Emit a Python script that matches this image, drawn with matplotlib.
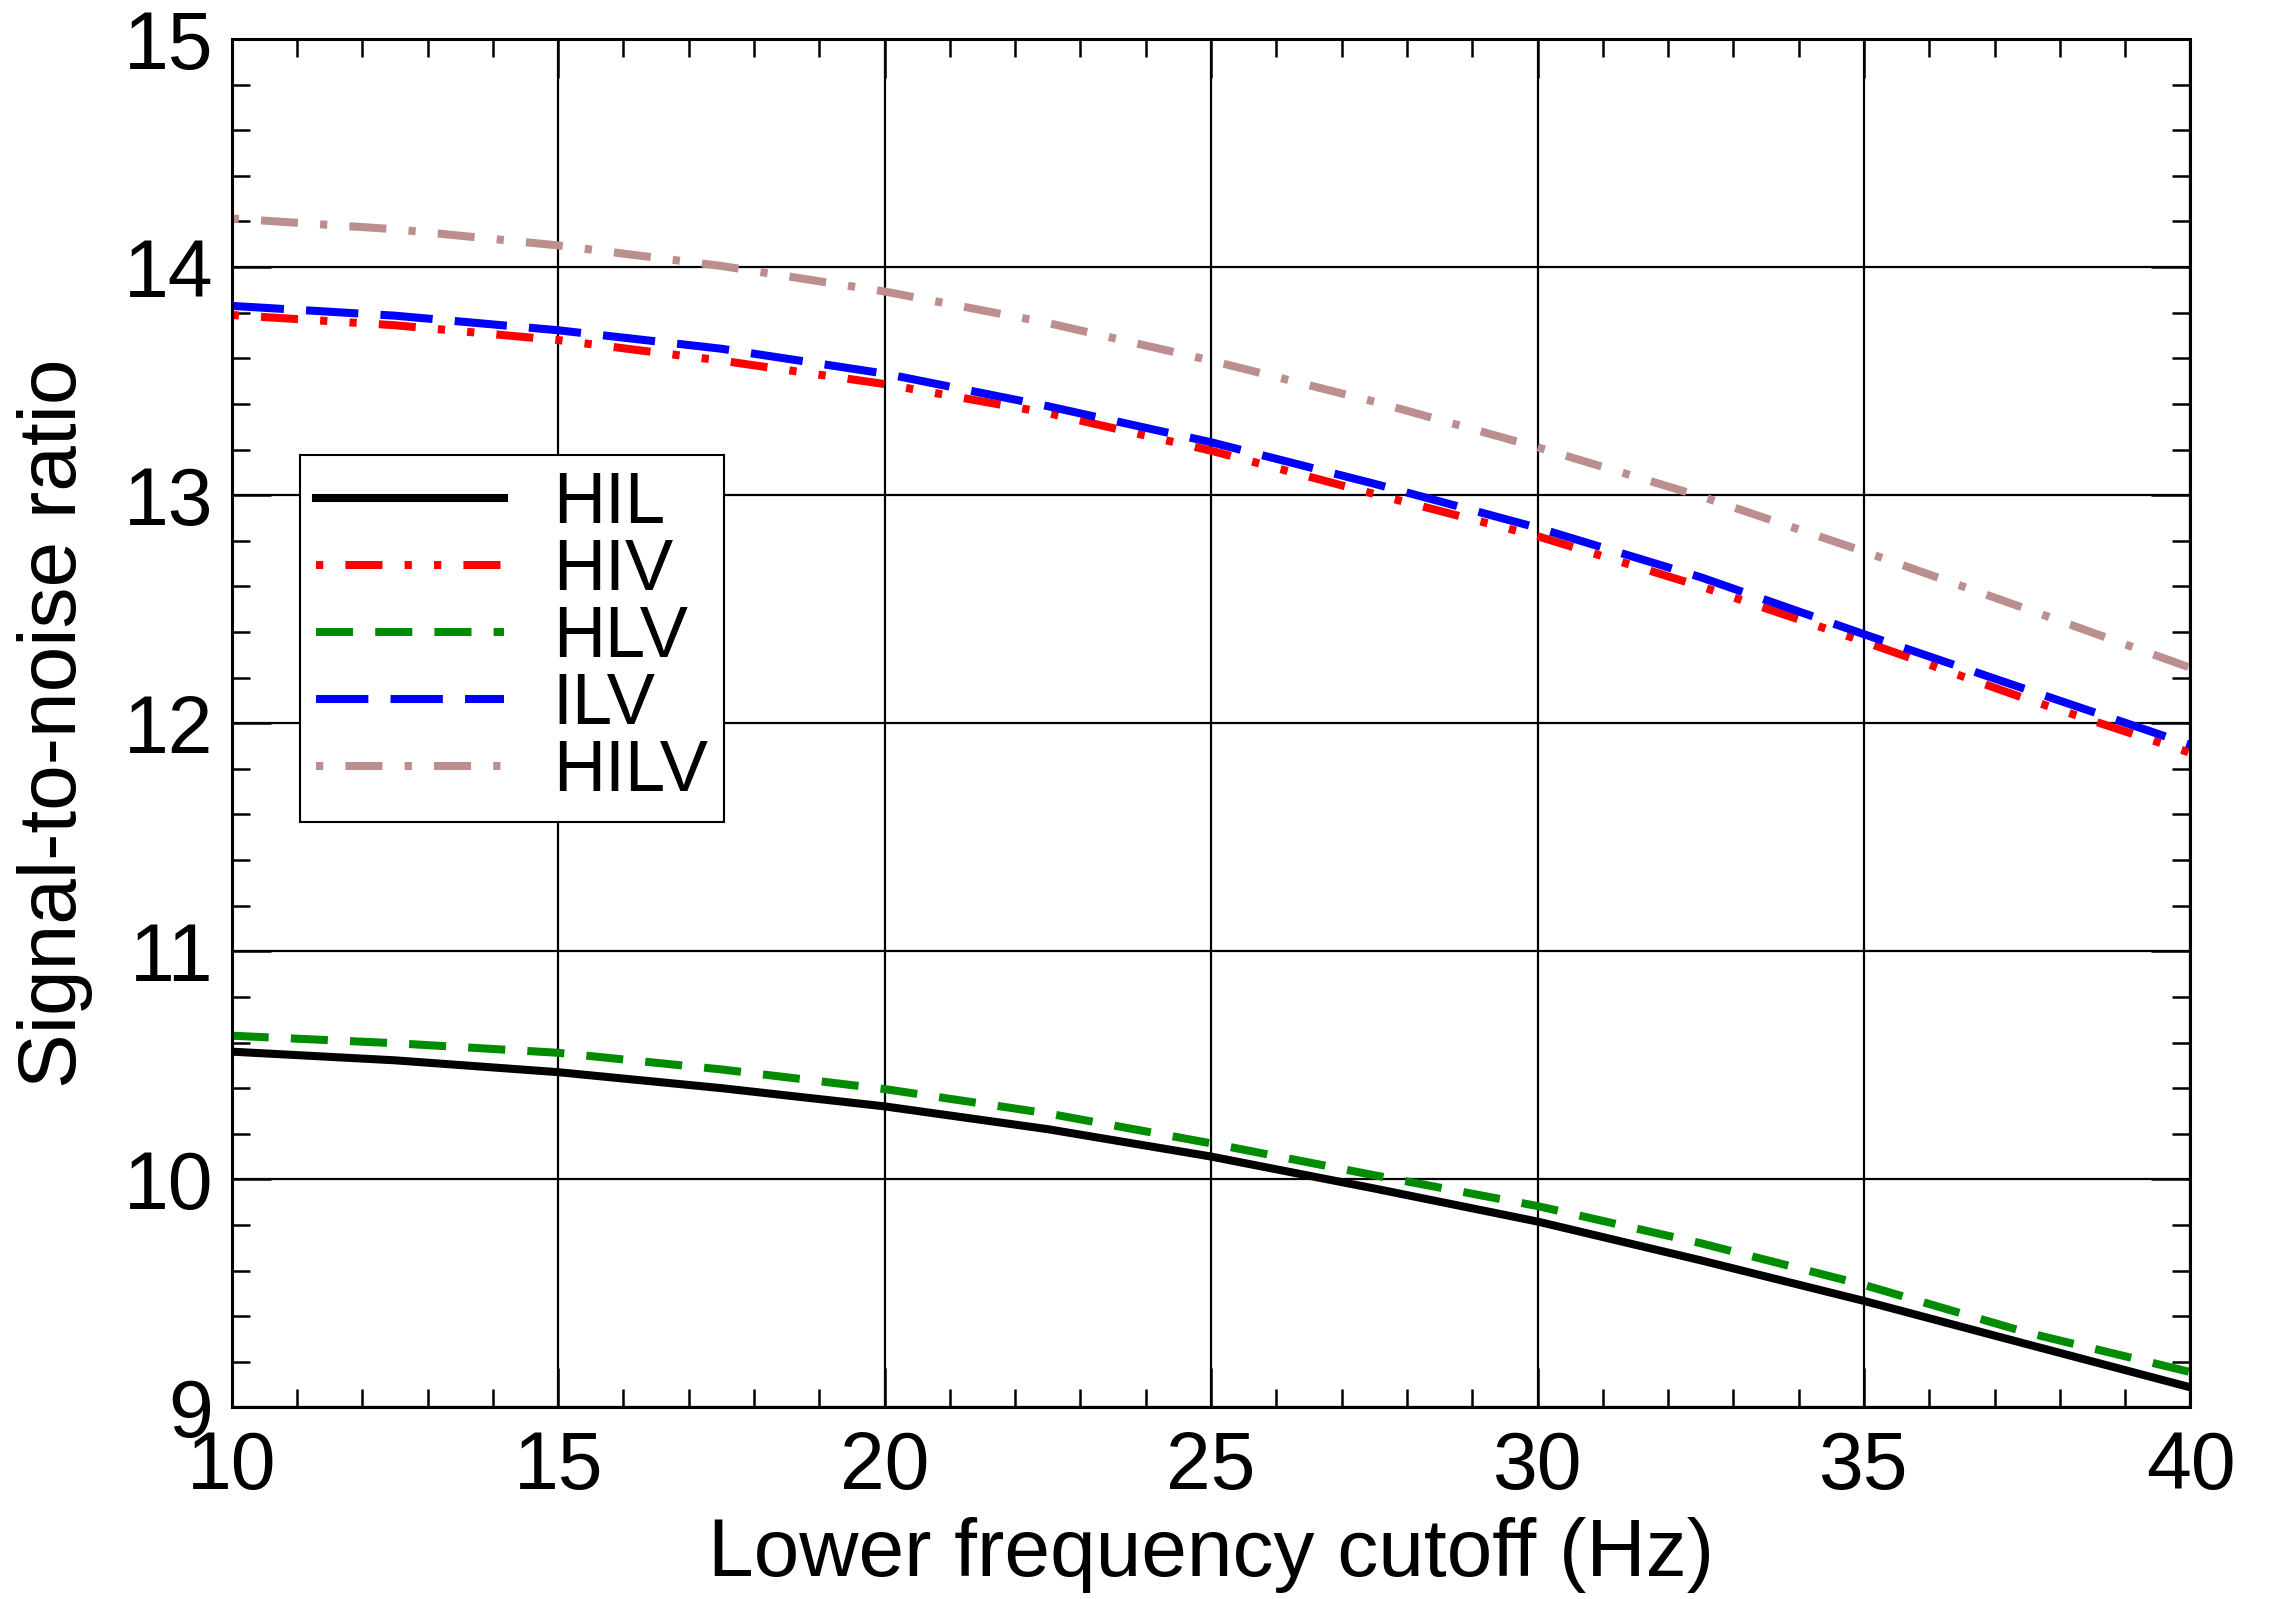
import numpy as np
import matplotlib
matplotlib.use('Agg')
import matplotlib.pyplot as plt
from matplotlib.ticker import MultipleLocator

# Lower frequency cutoff (Hz)
cutoff = [10, 12.5, 15, 17.5, 20, 22.5, 25, 27.5, 30, 32.5, 35, 37.5, 40]

# Signal-to-noise ratio for each detector network
snr_hil = [10.56, 10.522, 10.47, 10.40, 10.32, 10.22, 10.10, 9.96, 9.815, 9.645, 9.467, 9.277, 9.088]
snr_hiv = [13.79, 13.745, 13.68, 13.59, 13.487, 13.36, 13.195, 13.005, 12.82, 12.60, 12.358, 12.105, 11.87]
snr_hlv = [10.63, 10.597, 10.555, 10.482, 10.396, 10.289, 10.158, 10.018, 9.883, 9.72, 9.537, 9.328, 9.155]
snr_ilv = [13.83, 13.787, 13.723, 13.642, 13.533, 13.39, 13.232, 13.05, 12.857, 12.64, 12.39, 12.147, 11.905]
snr_hilv = [14.213, 14.166, 14.095, 14.005, 13.893, 13.755, 13.59, 13.41, 13.21, 12.995, 12.753, 12.50, 12.243]

plt.rcParams['font.family'] = ['Liberation Sans', 'DejaVu Sans']

fig = plt.figure(figsize=(22.69, 15.99), dpi=100)
ax = fig.add_axes([0.1021, 0.1198, 0.8633, 0.8558])

lw = 5.8
dot, gap, dash = 0.9, 2.75, 4.6
ax.plot(cutoff, snr_hil, color='black', lw=lw, label='HIL')
ax.plot(cutoff, snr_hiv, color='#ff0000', lw=lw, dash_capstyle='butt',
        linestyle=(dash + 2 * gap + dot, (dash, gap, dot, gap, dot, gap)), label='HIV')
ax.plot(cutoff, snr_hlv, color='#008c00', lw=lw, dash_capstyle='butt',
        linestyle=(0, (dash, gap)), label='HLV')
ax.plot(cutoff, snr_ilv, color='#0000ff', lw=lw, dash_capstyle='butt',
        linestyle=(0, (6.5, gap)), label='ILV')
ax.plot(cutoff, snr_hilv, color='#bc8f8f', lw=lw, dash_capstyle='butt',
        linestyle=(dash + gap, (dash, gap, dot, gap)), label='HILV')

ax.set_xlim(10, 40)
ax.set_ylim(9, 15)
ax.xaxis.set_major_locator(MultipleLocator(5))
ax.xaxis.set_minor_locator(MultipleLocator(1))
ax.yaxis.set_major_locator(MultipleLocator(1))
ax.yaxis.set_minor_locator(MultipleLocator(0.2))

ax.grid(which='major', color='black', lw=1.6)
ax.tick_params(which='both', direction='in', top=True, right=True, color='black')
ax.tick_params(which='major', length=28, width=1.8, labelsize=58)
ax.tick_params(axis='x', which='major', pad=16)
ax.tick_params(axis='y', which='major', pad=13)
ax.tick_params(which='minor', length=13, width=1.8)
for s in ax.spines.values():
    s.set_linewidth(2.2)

ax.set_xlabel('Lower frequency cutoff (Hz)', fontsize=59, labelpad=8)
ax.set_ylabel('Signal-to-noise ratio', fontsize=59, labelpad=22)

leg = ax.legend(loc='upper left', bbox_to_anchor=(0.1322, 0.7154),
                bbox_transform=fig.transFigure, borderaxespad=0,
                fontsize=52, handlelength=2.6, handletextpad=0.68,
                labelspacing=0.0, borderpad=0.22, fancybox=False,
                framealpha=1, edgecolor='black')
leg.get_frame().set_linewidth(1.5)

fig.savefig('out.png', dpi=100)
